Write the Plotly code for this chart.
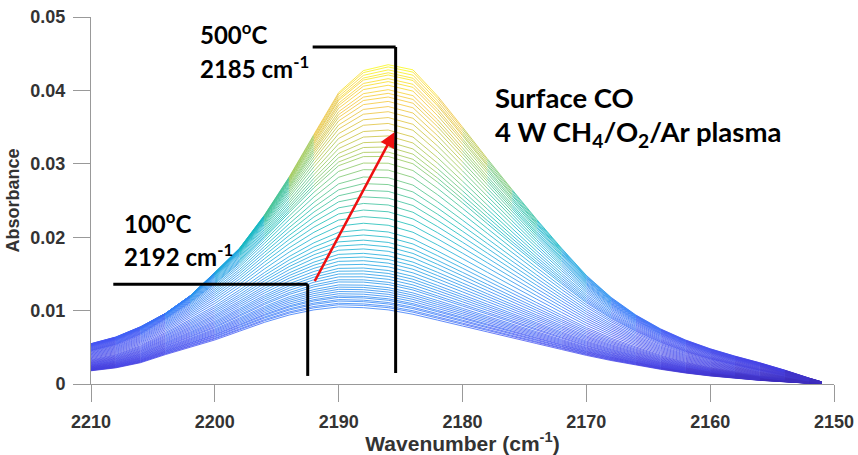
import numpy as np
import plotly.graph_objects as go
from plotly.colors import sample_colorscale

# ---------------- data ----------------
wavenumber = [2210, 2208, 2206, 2204, 2202, 2200, 2198, 2196, 2194, 2192,
              2190, 2188, 2186, 2184, 2182, 2180, 2178, 2176, 2174, 2172,
              2170, 2168, 2166, 2164, 2162, 2160, 2158, 2156, 2154, 2152, 2151]

# spectrum shape at 500 C (highest spectrum)
profile_500C = [0.0055, 0.0064, 0.0078, 0.0096, 0.0120, 0.0152, 0.0185, 0.0230, 0.0282, 0.0340,
                0.0397, 0.0427, 0.0435, 0.0428, 0.0392, 0.0350, 0.0307, 0.0265, 0.0224, 0.0185,
                0.0148, 0.0118, 0.0094, 0.0075, 0.0060, 0.0048, 0.0038, 0.0029, 0.0019, 0.0008, 0.0003]

# spectrum shape at 100 C (lowest spectrum)
profile_100C = [0.0018, 0.0022, 0.0029, 0.0040, 0.0050, 0.0060, 0.0072, 0.0084, 0.0094, 0.0101,
                0.0105, 0.0104, 0.0101, 0.0095, 0.0087, 0.0079, 0.0071, 0.0063, 0.0055, 0.0047,
                0.0039, 0.0032, 0.0026, 0.0020, 0.0015, 0.0011, 0.0008, 0.0005, 0.0003, 0.0001, 0.0000]

# peak absorbance of each recorded spectrum (100 C -> 500 C)
peak_heights = [0.0105, 0.0108, 0.0110, 0.0113, 0.0115, 0.0118, 0.0120, 0.0123, 0.0126, 0.0129,
                0.0132, 0.0135, 0.0139, 0.0142, 0.0146, 0.0150, 0.0154, 0.0158, 0.0163, 0.0168,
                0.0173, 0.0178, 0.0184, 0.0190, 0.0196, 0.0203, 0.0210, 0.0219, 0.0228, 0.0237,
                0.0246, 0.0255, 0.0264, 0.0273, 0.0282, 0.0292, 0.0301, 0.0310, 0.0316, 0.0323,
                0.0330, 0.0338, 0.0346, 0.0355, 0.0363, 0.0371, 0.0378, 0.0385, 0.0391, 0.0396,
                0.0401, 0.0407, 0.0412, 0.0416, 0.0421, 0.0424, 0.0428, 0.0432, 0.0435]

x_ticks = [2210, 2200, 2190, 2180, 2170, 2160, 2150]
y_ticks = [0, 0.01, 0.02, 0.03, 0.04, 0.05]
y_tick_text = ["0", "0.01", "0.02", "0.03", "0.04", "0.05"]

# ---------------- build spectra ----------------
wn = np.array(wavenumber, dtype=float)
p_hi = np.array(profile_500C) / max(profile_500C)
p_lo = np.array(profile_100C) / max(profile_100C)
h = np.array(peak_heights)
hmin, hmax = h.min(), h.max()

spectra = []
for hi in h:
    t = (hi - hmin) / (hmax - hmin)
    shape = (1 - t) * p_lo + t * p_hi
    spectra.append(hi * shape / shape.max())

# parula-like colormap, coloured by absorbance
parula = [[0.00, "#3d2ab8"], [0.06, "#4440e4"], [0.14, "#4657f4"], [0.24, "#337ef8"],
          [0.32, "#2797eb"], [0.41, "#19add9"], [0.50, "#13bbb8"], [0.60, "#49c28d"],
          [0.70, "#99c95a"], [0.78, "#cdc23a"], [0.87, "#f5c33a"], [0.93, "#f7d52a"],
          [1.00, "#f9fb15"]]
cmin, cmax = 0.0, hmax
nbins = 64
bin_colors = sample_colorscale(parula, [(i + 0.5) / nbins for i in range(nbins)])
bx = [[] for _ in range(nbins)]
by = [[] for _ in range(nbins)]
for y in spectra:
    for k in range(len(wn) - 1):
        v = 0.5 * (y[k] + y[k + 1])
        b = int(np.clip((v - cmin) / (cmax - cmin) * nbins, 0, nbins - 1))
        bx[b] += [wn[k], wn[k + 1], None]
        by[b] += [y[k], y[k + 1], None]

fig = go.Figure()
for b in range(nbins):
    if bx[b]:
        fig.add_trace(go.Scatter(x=bx[b], y=by[b], mode="lines",
                                 line=dict(color=bin_colors[b], width=0.8),
                                 hoverinfo="skip", showlegend=False))

tick_font = dict(family="Liberation Sans", size=18, color="#333333", weight="bold")
xt_font = dict(family="Liberation Sans", size=21, color="#333333", weight="bold")
yt_font = dict(family="Liberation Sans", size=18, color="#333333", weight="bold")
fig.update_xaxes(range=[2210, 2150], tickvals=x_ticks, ticks="outside", ticklen=17,
                 tickcolor="#999999", showline=True, linecolor="#999999", linewidth=1,
                 showgrid=False, zeroline=False, tickfont=tick_font, ticklabelstandoff=4,
                 automargin=False,
                 title=dict(text="Wavenumber (cm<sup>-1</sup>)", font=xt_font, standoff=7))
fig.update_yaxes(range=[0, 0.05], tickvals=y_ticks, ticktext=y_tick_text,
                 ticks="outside", ticklen=17, tickcolor="#999999", showline=True,
                 linecolor="#999999", linewidth=1, showgrid=False, zeroline=False,
                 tickfont=tick_font, ticklabelstandoff=4, automargin=False,
                 title=dict(text="Absorbance", font=yt_font, standoff=6))

# bracket lines
fig.add_shape(type="line", x0=2192.1, y0=0.0459, x1=2185.4, y1=0.0459, line=dict(color="black", width=3))
fig.add_shape(type="line", x0=2185.4, y0=0.0459, x1=2185.4, y1=0.0015, line=dict(color="black", width=3))
fig.add_shape(type="line", x0=2208.2, y0=0.0136, x1=2192.5, y1=0.0136, line=dict(color="black", width=3))
fig.add_shape(type="line", x0=2192.5, y0=0.0136, x1=2192.5, y1=0.0011, line=dict(color="black", width=3))

# red arrow
fig.add_annotation(x=2185.5, y=0.0343, ax=2192.0, ay=0.0138, xref="x", yref="y", axref="x", ayref="y",
                   showarrow=True, arrowhead=2, arrowsize=1.2, arrowwidth=2.5, arrowcolor="#ee1111", text="")


def ypx(p):
    return (384 - p) / 73.4 / 100


lab = dict(family="Lato", size=24, color="black", weight="bold")
big = dict(family="Lato", size=27.5, color="black", weight="bold")
fig.add_annotation(x=2201.4, y=ypx(33), text="500<sup>o</sup>C", showarrow=False,
                   xanchor="left", yanchor="middle", font=lab)
fig.add_annotation(x=2201.4, y=ypx(67), text="2185 cm<sup>-1</sup>", showarrow=False,
                   xanchor="left", yanchor="middle", font=lab)
fig.add_annotation(x=2207.5, y=ypx(222), text="100<sup>o</sup>C", showarrow=False,
                   xanchor="left", yanchor="middle", font=lab)
fig.add_annotation(x=2207.5, y=ypx(255), text="2192 cm<sup>-1</sup>", showarrow=False,
                   xanchor="left", yanchor="middle", font=lab)
fig.add_annotation(x=2177.5, y=ypx(97), text="Surface CO", showarrow=False,
                   xanchor="left", yanchor="middle", font=big)
fig.add_annotation(x=2177.5, y=ypx(133), text="4 W CH<sub>4</sub>/O<sub>2</sub>/Ar plasma",
                   showarrow=False, xanchor="left", yanchor="middle", font=big)

fig.update_layout(width=858, height=455, margin=dict(l=91, r=24, t=17, b=71),
                  plot_bgcolor="white", paper_bgcolor="white", showlegend=False)
fig.write_html("out.html")
